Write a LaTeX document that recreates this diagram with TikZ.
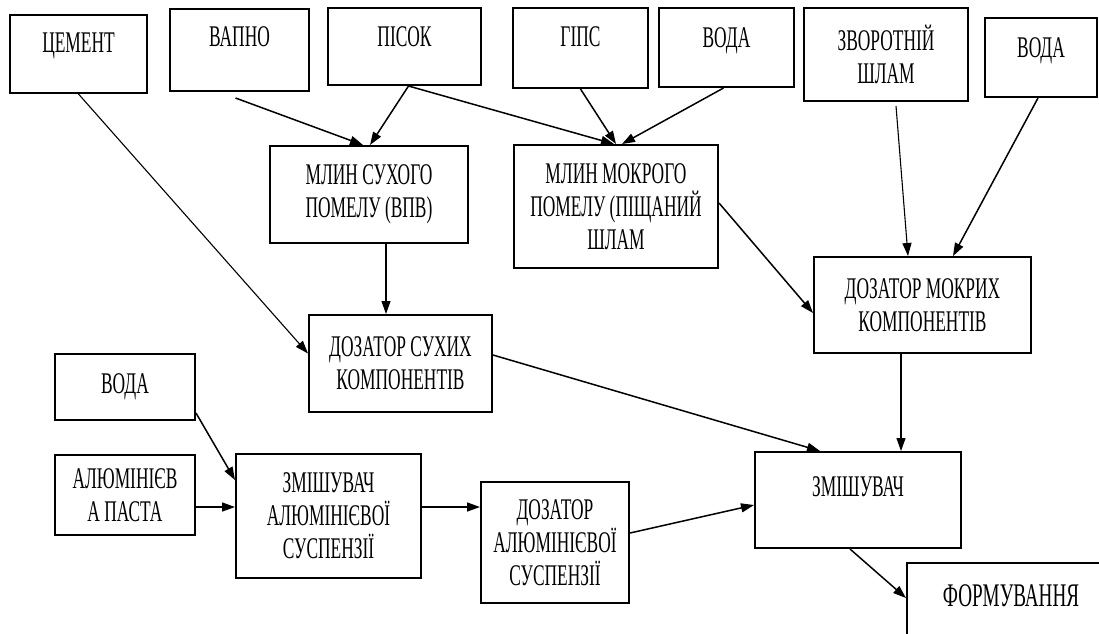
\documentclass[tikz,border=0pt]{standalone}
\usepackage{fontspec}
\setmainfont[FakeStretch=0.58]{Liberation Serif}
\usetikzlibrary{arrows.meta}

\begin{document}
\begin{tikzpicture}[x=1pt,y=-1pt,
    box/.style={draw,line width=2pt,align=center,inner sep=0pt,
      font=\fontsize{30}{33}\selectfont},
    flow/.style={line width=1.5pt,-{Triangle[length=13pt,width=9pt]}}]

    \useasboundingbox (0,0) rectangle (1099,633);
    \clip (0,0) rectangle (1099,633);

    % Raw materials
    \node[box,minimum width=137pt,minimum height=78pt,text depth=22pt] (cement) at (78.5,54) {ЦЕМЕНТ};
    \node[box,minimum width=139pt,minimum height=82pt,text depth=26pt] (lime) at (239.5,50) {ВАПНО};
    \node[box,minimum width=153pt,minimum height=77pt,text depth=20pt] (sand) at (404.5,46.5) {ПІСОК};
    \node[box,minimum width=135pt,minimum height=80pt,text depth=22pt] (gypsum) at (580.5,48) {ГІПС};
    \node[box,minimum width=135pt,minimum height=79pt,text depth=20pt] (waterA) at (726.5,47.5) {ВОДА};
    \node[box,minimum width=164pt,minimum height=93pt] (slurry) at (886,54.5) {ЗВОРОТНІЙ\\ШЛАМ};
    \node[box,minimum width=112pt,minimum height=79pt,text depth=20pt] (waterB) at (1041,57.5) {ВОДА};

    % Mills
    \node[box,minimum width=198pt,minimum height=97pt] (drymill) at (369,194.5) {МЛИН СУХОГО\\ПОМЕЛУ (ВПВ)};
    \node[box,minimum width=204pt,minimum height=123pt] (wetmill) at (616,206.5) {МЛИН МОКРОГО\\ПОМЕЛУ (ПІЩАНИЙ\\ШЛАМ};

    % Dosers
    \node[box,minimum width=217pt,minimum height=96pt] (wetdoser) at (922.5,305) {ДОЗАТОР МОКРИХ\\КОМПОНЕНТІВ};
    \node[box,minimum width=183pt,minimum height=97pt] (drydoser) at (400.5,363.5) {ДОЗАТОР СУХИХ\\КОМПОНЕНТІВ};

    % Aluminium line
    \node[box,minimum width=140pt,minimum height=66pt] (waterC) at (125,387) {ВОДА};
    \node[box,minimum width=140pt,minimum height=80pt] (paste) at (125,495) {АЛЮМІНІЄВ\\А ПАСТА};
    \node[box,minimum width=185pt,minimum height=124pt] (almixer) at (328.5,516) {ЗМІШУВАЧ\\АЛЮМІНІЄВОЇ\\СУСПЕНЗІЇ};
    \node[box,minimum width=148pt,minimum height=121pt] (aldoser) at (555,542.5) {ДОЗАТОР\\АЛЮМІНІЄВОЇ\\СУСПЕНЗІЇ};

    % Mixer and moulding
    \node[box,minimum width=206pt,minimum height=96pt,text depth=26pt] (mixer) at (858,500) {ЗМІШУВАЧ};
    \node[box,minimum width=208pt,minimum height=77pt,text depth=11pt,
      font=\fontsize{33}{36}\selectfont] (moulding) at (1011,601.5) {ФОРМУВАННЯ};

    %% Arrows to the mills
    \draw[flow] ([shift={(-4pt,-6pt)}]lime.south) -- ([xshift=-6pt]drymill.north);
    \draw[flow] ([xshift=4pt]sand.south) -- ([xshift=1pt]drymill.north);
    \draw[flow] ([xshift=4pt]sand.south) -- ([xshift=-2pt]wetmill.north);
    \draw[flow] (gypsum.south) -- (wetmill.north);
    \draw[flow] ([xshift=-3pt]waterA.south) -- ([xshift=6pt]wetmill.north);

    %% Arrows to the dosers
    \draw[flow,line width=1.1pt] (cement.south) -- ([yshift=10pt]drydoser.west);
    \draw[flow,line width=1.1pt] ([xshift=17pt]drymill.south) -- ([xshift=17pt]drymill.south |- drydoser.north);
    \draw[flow] ([yshift=3.5pt]wetmill.east) -- ([yshift=-8pt]wetdoser.west);
    \draw[flow,line width=1.1pt] ([shift={(10pt,-4pt)}]slurry.south) -- ([xshift=-14.5pt]wetdoser.north);
    \draw[flow] ([xshift=-3pt]waterB.south) -- ([xshift=30.5pt]wetdoser.north);

    %% Arrows to the mixer
    \draw[flow,line width=1.1pt] ([xshift=-21.5pt]wetdoser.south) -- ([xshift=-21.5pt]wetdoser.south |- mixer.north);
    \draw[flow] ([yshift=8.5pt]drydoser.east) -- ([xshift=-38pt]mixer.north);
    \draw[flow] ([yshift=-12pt]paste.east) -- ([yshift=-12pt]paste.east -| almixer.west);
    \draw[flow] ([yshift=8pt]waterC.south east) -- ([yshift=36pt]almixer.west);
    \draw[flow] ([yshift=9pt]almixer.east) -- ([yshift=9pt]almixer.east -| aldoser.west);
    \draw[flow] ([yshift=9.5pt]aldoser.east) -- ([yshift=-5pt]mixer.west);
    \draw[flow] ([xshift=-8pt]mixer.south) -- ([yshift=3.5pt]moulding.west);

\end{tikzpicture}
\end{document}
